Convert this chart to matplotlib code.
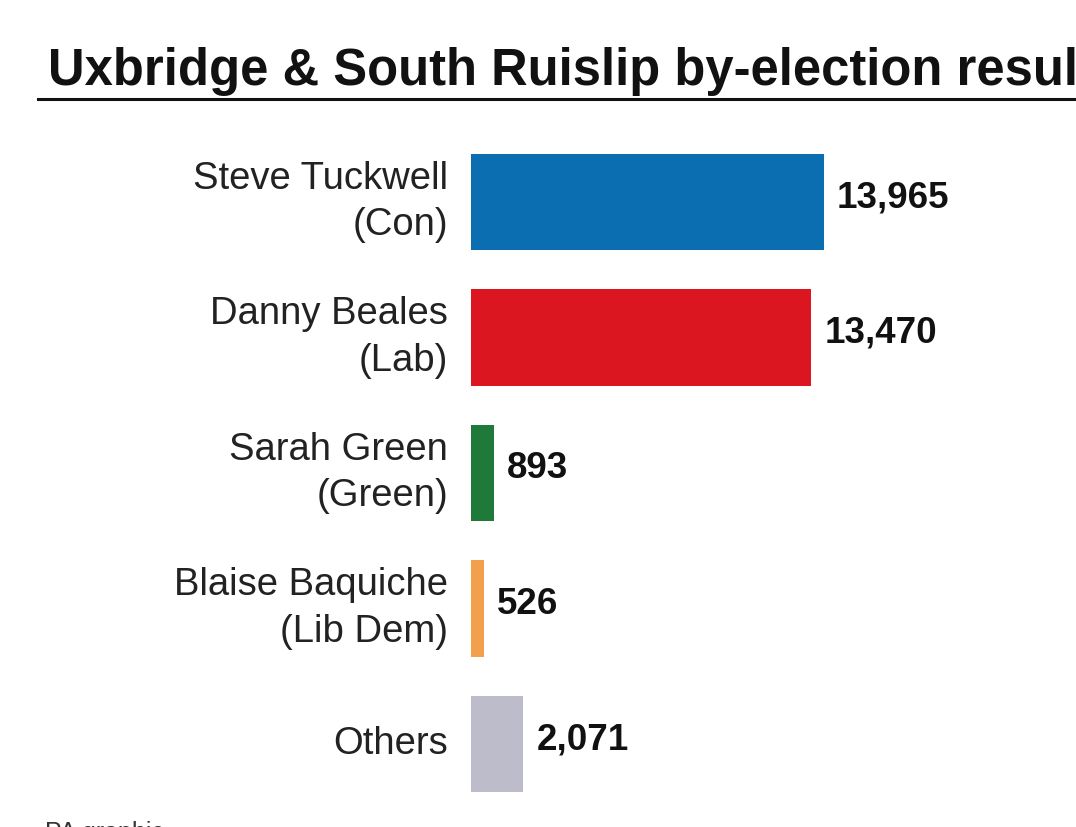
import numpy as np
import matplotlib
matplotlib.use("Agg")
import matplotlib.pyplot as plt
from matplotlib.lines import Line2D

plt.rcParams["font.family"] = ["Liberation Sans", "DejaVu Sans"]

CANDIDATES = ["Steve Tuckwell\n(Con)", "Danny Beales\n(Lab)", "Sarah Green\n(Green)",
              "Blaise Baquiche\n(Lib Dem)", "Others"]
VOTES = [13965, 13470, 893, 526, 2071]
COLORS = ["#0b6eb1", "#dc1620", "#1f7a3a", "#f3a04c", "#bdbccb"]

W, H = 1076, 828
fig = plt.figure(figsize=(W / 100, H / 100), dpi=100)
fig.patch.set_facecolor("white")

# title + rule (title runs off the right edge, as in the source)
fig.text(48 / W, 1 - 85 / H, "Uxbridge & South Ruislip by-election result",
         fontsize=36.5, fontweight="bold", ha="left", va="baseline", color="#111111")
fig.add_artist(Line2D([38 / W, 1.0], [1 - 100 / H] * 2, transform=fig.transFigure,
                      color="#111111", lw=2.2))
# source line, mostly cut off by the bottom edge
fig.text(45 / W, 1 - 821 / H, "PA graphic", fontsize=18, ha="left", va="top",
         color="#333333")

# bar area: 0 votes at x=471px, 353px per 13,965 votes
left, right = 471, W
top, bottom = 135.25, 812.75
ax = fig.add_axes([left / W, 1 - bottom / H, (right - left) / W, (bottom - top) / H])
px_per_vote = 353 / 13965
ax.set_xlim(0, (right - left) / px_per_vote)
ax.set_ylim(len(VOTES) - 0.5, -0.5)

y = np.arange(len(VOTES))
ax.barh(y, VOTES, height=0.71, color=COLORS)

for yi, v, name in zip(y, VOTES, CANDIDATES):
    ax.annotate(f"{v:,}", (v, yi), xytext=(13, 5), textcoords="offset pixels",
                ha="left", va="center", fontsize=26.5, fontweight="bold", color="#111111")
    ax.annotate(name, (0, yi), xytext=(-23, 1), textcoords="offset pixels",
                ha="right", va="center", multialignment="right", linespacing=1.38,
                fontsize=27.5, color="#222222")

ax.set_xticks([])
ax.set_yticks([])
for s in ax.spines.values():
    s.set_visible(False)
ax.patch.set_alpha(0)

fig.savefig("out.png", dpi=100)
